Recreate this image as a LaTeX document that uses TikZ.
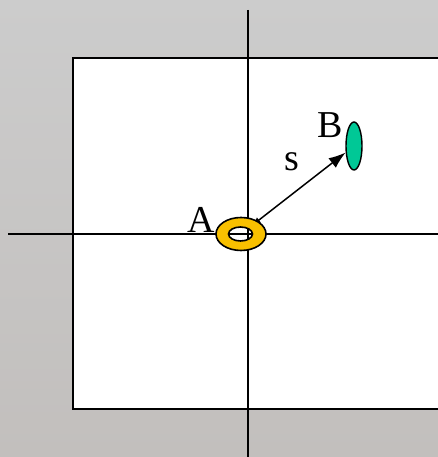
\documentclass[tikz,border=0pt]{standalone}
\usepackage{fontspec}
\setmainfont{Liberation Serif}
\usetikzlibrary{arrows.meta,shapes.geometric}
\definecolor{slidegray}{HTML}{CCCCCC}
\definecolor{slidegraylow}{HTML}{C2BFBD}
\definecolor{ringgold}{HTML}{F8C000}
\definecolor{spotteal}{HTML}{00C896}

\begin{document}
\begin{tikzpicture}[
  x=1pt,y=1pt,
  axis/.style={line width=1.8pt,black},
  ringpath/.style={draw=black,line width=1.6pt,fill=ringgold,even odd rule},
  spot/.style={ellipse,draw=black,line width=1.4pt,fill=spotteal,inner sep=0pt,minimum width=16pt,minimum height=48pt},
  lab/.style={font=\fontsize{38}{40}\selectfont,inner sep=0pt},
  arr/.style={{Latex[length=7pt,width=7pt]}-{Latex[length=17pt,width=12pt]},line width=1.5pt}
]
\clip (0,0) rectangle (438,457);
\shade[top color=slidegray,bottom color=slidegraylow] (0,0) rectangle (438,457);
\draw[axis,fill=white] (73,48) rectangle (460,399);
\draw[axis] (248,447) coordinate (vtop) -- (248,0) coordinate (vbot);
\draw[axis] (8,223) coordinate (hleft) -- (438,223) coordinate (hright);

\node[spot] (B) at (354,311) {};
\node[ellipse,inner sep=0pt,minimum width=50pt,minimum height=33pt] (A) at (241,223) {};
\draw[arr,shorten <=-5pt] (A) -- (B);
\draw[ringpath] (A.center) ellipse [x radius=25,y radius=16.5]
  ([xshift=-0.5pt]A.center) ellipse [x radius=12,y radius=7];

\node[lab] (Alab) at (201,237) {A};
\node[lab] (Blab) at (330,332) {B};
\node[lab] (slab) at (292,295) {s};
\end{tikzpicture}
\end{document}
